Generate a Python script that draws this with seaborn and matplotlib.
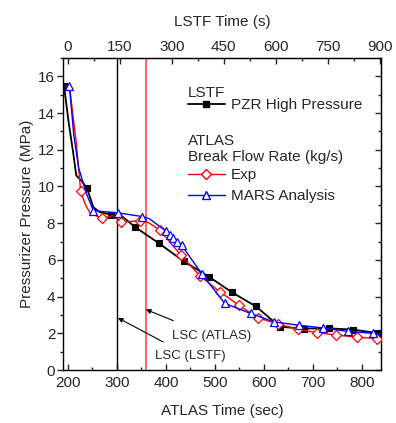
import numpy as np
import matplotlib
matplotlib.use("Agg")
import matplotlib.pyplot as plt
import seaborn as sns
from matplotlib.lines import Line2D
from matplotlib.ticker import MultipleLocator

# ---------------- data ----------------
# LSTF PZR high pressure (plotted on ATLAS time scale)
lstf_time = [192, 201, 211, 217, 228, 239, 252, 265, 287, 309, 337, 386, 436, 488,
             535, 584, 633, 682, 733, 782, 830]
lstf_pressure = [15.5, 13.6, 11.8, 10.6, 10.3, 9.9, 8.87, 8.6, 8.47, 8.41, 7.79, 6.9,
                 5.93, 5.08, 4.23, 3.46, 2.35, 2.26, 2.27, 2.2, 2.02]
lstf_markers = [0, 5, 8, 10, 11, 12, 13, 14, 15, 16, 17, 18, 19, 20]

# ATLAS experiment
exp_time = [195, 204, 217, 226, 235, 245, 269, 292, 308, 347, 360, 388, 430, 469,
            510, 549, 588, 628, 669, 709, 748, 789, 830]
exp_pressure = [15.5, 15.3, 12.4, 9.75, 9.05, 8.56, 8.26, 8.41, 8.05, 8.14, 8.1, 7.63,
                6.27, 5.14, 4.26, 3.53, 2.84, 2.52, 2.22, 2.03, 1.9, 1.8, 1.71]
exp_markers = [3, 6, 8, 9, 11, 12, 13, 14, 15, 16, 17, 18, 19, 20, 21, 22]

# MARS analysis
mars_time = [203, 212, 222, 238, 252, 303, 352, 367, 401, 408, 415, 422, 432, 473,
             520, 573, 621, 671, 721, 772, 823, 840]
mars_pressure = [15.5, 12.8, 11.0, 9.6, 8.68, 8.56, 8.36, 8.23, 7.55, 7.35, 7.2, 7.0,
                 6.8, 5.25, 3.63, 3.08, 2.62, 2.44, 2.29, 2.1, 2.0, 1.97]
mars_markers = [0, 4, 5, 6, 8, 9, 10, 11, 12, 13, 14, 15, 16, 17, 18, 19, 20]

lsc_atlas = 359
lsc_lstf = 300

bottom_ticks = [200, 300, 400, 500, 600, 700, 800]
top_ticks = [0, 150, 300, 450, 600, 750, 900]
y_ticks = [0, 2, 4, 6, 8, 10, 12, 14, 16]

# ---------------- style ----------------
sns.set_style("ticks")
plt.rcParams["font.family"] = ["Liberation Sans", "DejaVu Sans"]
plt.rcParams["font.size"] = 11

fig = plt.figure(figsize=(3.96, 4.23), dpi=100)
ax = fig.add_axes([63 / 396, 1 - 370 / 423, 318 / 396, 312 / 423])

sns.lineplot(x=lstf_time, y=lstf_pressure, ax=ax, color="black", lw=1.3,
             marker="s", markersize=5, markerfacecolor="black",
             markeredgecolor="black", markeredgewidth=0.8,
             markevery=lstf_markers, zorder=3)
sns.lineplot(x=exp_time, y=exp_pressure, ax=ax, color="red", lw=1.0,
             marker="D", markersize=5.5, markerfacecolor="white",
             markeredgecolor="red", markeredgewidth=0.9,
             markevery=exp_markers, zorder=4)
sns.lineplot(x=mars_time, y=mars_pressure, ax=ax, color="blue", lw=1.0,
             marker="^", markersize=6.3, markerfacecolor="white",
             markeredgecolor="blue", markeredgewidth=0.9,
             markevery=mars_markers, zorder=5)

ax.axvline(lsc_lstf, color="black", lw=1.0, zorder=2)
ax.axvline(lsc_atlas, color="#ff6464", lw=1.4, zorder=2)

ax.set_xlim(190, 839)
ax.set_ylim(0, 17)
ax.set_xticks(bottom_ticks)
ax.xaxis.set_minor_locator(MultipleLocator(50))
ax.set_yticks(y_ticks)
ax.yaxis.set_minor_locator(MultipleLocator(1))

ax.tick_params(axis="x", which="both", direction="in", top=False, pad=4.5)
ax.tick_params(axis="x", which="major", length=4, width=1)
ax.tick_params(axis="x", which="minor", length=2, width=1)
ax.tick_params(axis="y", which="both", direction="out", right=False, pad=1.5)
ax.tick_params(axis="y", which="major", length=4, width=1)
ax.tick_params(axis="y", which="minor", length=2, width=1)

for s in ax.spines.values():
    s.set_linewidth(1.0)
    s.set_color("black")

ax.set_xlabel("ATLAS Time (sec)", labelpad=10)
ax.set_ylabel("Pressurizer Pressure (MPa)", labelpad=3)

r2 = np.sqrt(2.0)
top = ax.secondary_xaxis("top", functions=(lambda a: (a - 200) * r2,
                                           lambda t: 200 + t / r2))
top.set_xticks(top_ticks)
top.xaxis.set_minor_locator(MultipleLocator(75))
top.tick_params(axis="x", which="both", direction="in", pad=3)
top.tick_params(axis="x", which="major", length=4, width=1)
top.tick_params(axis="x", which="minor", length=2, width=1)
top.set_xlabel("LSTF Time (s)", labelpad=10)

right = ax.secondary_yaxis("right")
right.set_yticks(y_ticks)
right.yaxis.set_minor_locator(MultipleLocator(1))
right.tick_params(axis="y", which="both", direction="in", labelright=False)
right.tick_params(axis="y", which="major", length=4, width=1)
right.tick_params(axis="y", which="minor", length=2, width=1)

# annotations
ax.annotate("LSC (ATLAS)", xy=(lsc_atlas, 3.3), xytext=(412, 1.84),
            fontsize=9.5, va="center", ha="left",
            arrowprops=dict(arrowstyle="-|>", color="black", lw=0.8,
                            mutation_scale=7, shrinkA=12, shrinkB=0))
ax.annotate("LSC (LSTF)", xy=(lsc_lstf + 2, 2.84), xytext=(378, 0.74),
            fontsize=9.5, va="center", ha="left",
            arrowprops=dict(arrowstyle="-|>", color="black", lw=0.8,
                            mutation_scale=7, shrinkA=8, shrinkB=0))

# legend
ax.text(0.393, 0.888, "LSTF", transform=ax.transAxes, va="center", ha="left")
h1 = [Line2D([], [], color="black", lw=1.3, marker="s", markersize=5,
             markerfacecolor="black", markeredgecolor="black")]
leg1 = ax.legend(h1, ["PZR High Pressure"], loc="center left",
                 bbox_to_anchor=(0.393, 0.849), frameon=False, borderpad=0,
                 borderaxespad=0, handlelength=2.4, handletextpad=0.4,
                 fontsize=11)
ax.add_artist(leg1)
ax.text(0.393, 0.734, "ATLAS", transform=ax.transAxes, va="center", ha="left")
ax.text(0.393, 0.683, "Break Flow Rate (kg/s)", transform=ax.transAxes,
        va="center", ha="left")
h2 = [Line2D([], [], color="red", lw=1.0, marker="D", markersize=5.5,
             markerfacecolor="white", markeredgecolor="red"),
      Line2D([], [], color="blue", lw=1.0, marker="^", markersize=6.3,
             markerfacecolor="white", markeredgecolor="blue")]
ax.legend(h2, ["Exp", "MARS Analysis"], loc="center left",
          bbox_to_anchor=(0.393, 0.590), frameon=False, borderpad=0,
          borderaxespad=0, handlelength=2.4, handletextpad=0.4,
          labelspacing=0.45, fontsize=11)

fig.savefig("out.png", dpi=100)
